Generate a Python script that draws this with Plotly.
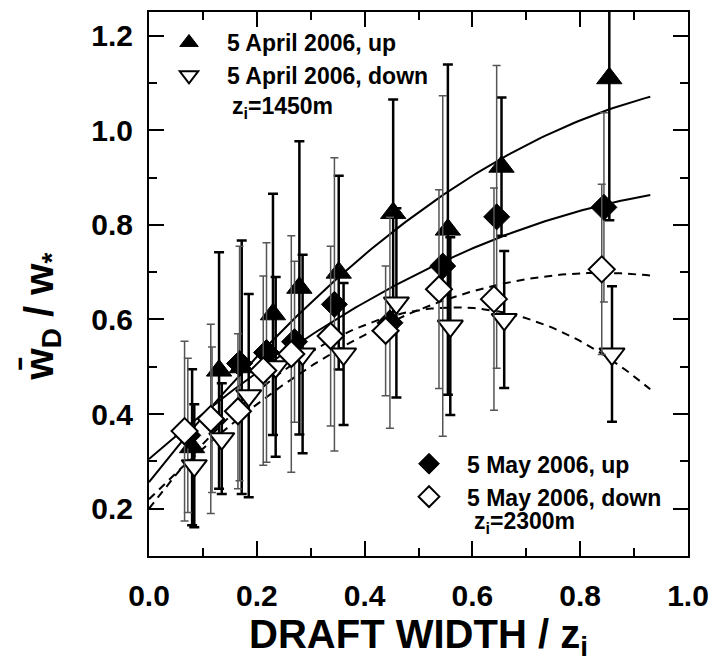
import numpy as np
import plotly.graph_objects as go

# ---------------- data ----------------
apr_up_x = [0.080, 0.130, 0.172, 0.230, 0.279, 0.352, 0.453, 0.5545, 0.654, 0.854]
apr_up_y = [0.330, 0.492, 0.499, 0.611, 0.667, 0.699, 0.825, 0.790, 0.923, 1.110]
apr_up_e = [0.165, 0.250, 0.268, 0.255, 0.310, 0.205, 0.240, 0.349, 0.146, 0.300]

apr_dn_x = [0.084, 0.135, 0.185, 0.235, 0.285, 0.361, 0.459, 0.559, 0.659, 0.859]
apr_dn_y = [0.291, 0.348, 0.439, 0.500, 0.527, 0.527, 0.635, 0.586, 0.600, 0.527]
apr_dn_e = [0.130, 0.117, 0.215, 0.190, 0.210, 0.150, 0.200, 0.188, 0.145, 0.143]

may_up_x = [0.072, 0.117, 0.168, 0.218, 0.270, 0.344, 0.447, 0.545, 0.645, 0.844]
may_up_y = [0.355, 0.388, 0.507, 0.530, 0.553, 0.632, 0.593, 0.713, 0.817, 0.837]
may_up_e = [0.163, 0.154, 0.248, 0.232, 0.170, 0.310, 0.223, 0.360, 0.320, 0.200]

may_dn_x = [0.066, 0.1146, 0.165, 0.212, 0.264, 0.337, 0.439, 0.538, 0.640, 0.840]
may_dn_y = [0.364, 0.390, 0.406, 0.492, 0.527, 0.565, 0.576, 0.664, 0.643, 0.706]
may_dn_e = [0.190, 0.200, 0.164, 0.200, 0.250, 0.190, 0.137, 0.210, 0.235, 0.180]

# quadratic fit coefficients (c0, c1, c2)
fit_apr_up = [0.256, 1.449, -0.616]
fit_may_up = [0.305, 1.000, -0.430]
fit_apr_dn = [0.200, 1.499, -1.320]
fit_may_dn = [0.220, 1.140, -0.679]
fit_x_range = [0.0, 0.93]

x_ticks = [0.0, 0.2, 0.4, 0.6, 0.8, 1.0]
y_ticks = [0.2, 0.4, 0.6, 0.8, 1.0, 1.2]

FONT = "Liberation Sans, Arial, sans-serif"

fig = go.Figure()

xf = np.linspace(fit_x_range[0], fit_x_range[1], 120)


def poly(c, x):
    return c[0] + c[1] * x + c[2] * x ** 2


for coef, dash in [(fit_apr_up, "solid"), (fit_may_up, "solid"),
                   (fit_apr_dn, "8px,6px"), (fit_may_dn, "8px,6px")]:
    fig.add_trace(go.Scatter(x=xf, y=poly(coef, xf), mode="lines",
                             line=dict(color="black", width=2, dash=dash),
                             showlegend=False, hoverinfo="skip"))

thick_bar = dict(type="data", symmetric=True, color="black", thickness=2.5, width=5)
thin_bar = dict(type="data", symmetric=True, color="#555555", thickness=1.5, width=4)

fig.add_trace(go.Scatter(
    x=apr_up_x, y=apr_up_y, mode="markers", name="5 April 2006, up",
    error_y=dict(array=apr_up_e, **thick_bar),
    marker=dict(symbol="triangle-up", size=22, color="black",
                line=dict(color="black", width=1)),
    legend="legend"))
fig.add_trace(go.Scatter(
    x=may_up_x, y=may_up_y, mode="markers", name="5 May 2006, up",
    error_y=dict(array=may_up_e, **thin_bar),
    marker=dict(symbol="diamond", size=20, color="black",
                line=dict(color="black", width=1)),
    legend="legend2"))
fig.add_trace(go.Scatter(
    x=apr_dn_x, y=apr_dn_y, mode="markers", name="5 April 2006, down",
    error_y=dict(array=apr_dn_e, **thick_bar),
    marker=dict(symbol="triangle-down", size=22, color="white",
                line=dict(color="black", width=2)),
    legend="legend"))
fig.add_trace(go.Scatter(
    x=may_dn_x, y=may_dn_y, mode="markers", name="5 May 2006, down",
    error_y=dict(array=may_dn_e, **thin_bar),
    marker=dict(symbol="diamond", size=20, color="white",
                line=dict(color="black", width=2)),
    legend="legend2"))

axis_common = dict(
    showline=True, linewidth=2, linecolor="black", mirror="ticks",
    ticks="inside", ticklen=15, tickwidth=2, tickcolor="black",
    showgrid=False, zeroline=False, tickformat=".1f",
    tickfont=dict(family=FONT, size=30, color="black", weight="bold"),
    minor=dict(ticks="inside", ticklen=8, tickwidth=2, tickcolor="black", dtick=0.1),
)

title_font = dict(family=FONT, size=40, color="black", weight="bold")

fig.update_xaxes(range=[0, 1], tickvals=x_ticks, ticklabelstandoff=12,
                 title=dict(text="DRAFT WIDTH / z<sub>i</sub>", standoff=8,
                            font=title_font),
                 **axis_common)
fig.update_yaxes(range=[0.1, 1.25], tickvals=y_ticks, ticklabelstandoff=8,
                 **axis_common)

leg_font = dict(family=FONT, size=23, color="black", weight="bold")
fig.update_layout(
    width=719, height=669,
    margin=dict(l=149, r=23, t=10, b=113),
    paper_bgcolor="white", plot_bgcolor="white",
    showlegend=True,
    legend=dict(x=0.0037, y=0.9835, xanchor="left", yanchor="top",
                bgcolor="rgba(0,0,0,0)", font=leg_font, itemwidth=66),
    legend2=dict(x=0.449, y=0.209, xanchor="left", yanchor="top",
                 bgcolor="rgba(0,0,0,0)", font=leg_font, itemwidth=66),
    annotations=[
        dict(text="w\u0304<sub>D</sub> / w<sub>*</sub>", xref="paper", yref="paper",
             x=-0.199, y=0.44, xanchor="center", yanchor="middle", textangle=-90,
             showarrow=False, font=title_font),
        dict(text="z<sub>i</sub>=1450m", xref="paper", yref="paper",
             x=0.151, y=0.824, xanchor="left", yanchor="middle",
             showarrow=False, font=leg_font),
        dict(text="z<sub>i</sub>=2300m", xref="paper", yref="paper",
             x=0.600, y=0.062, xanchor="left", yanchor="middle",
             showarrow=False, font=leg_font),
    ],
)

fig.write_html("out.html")
